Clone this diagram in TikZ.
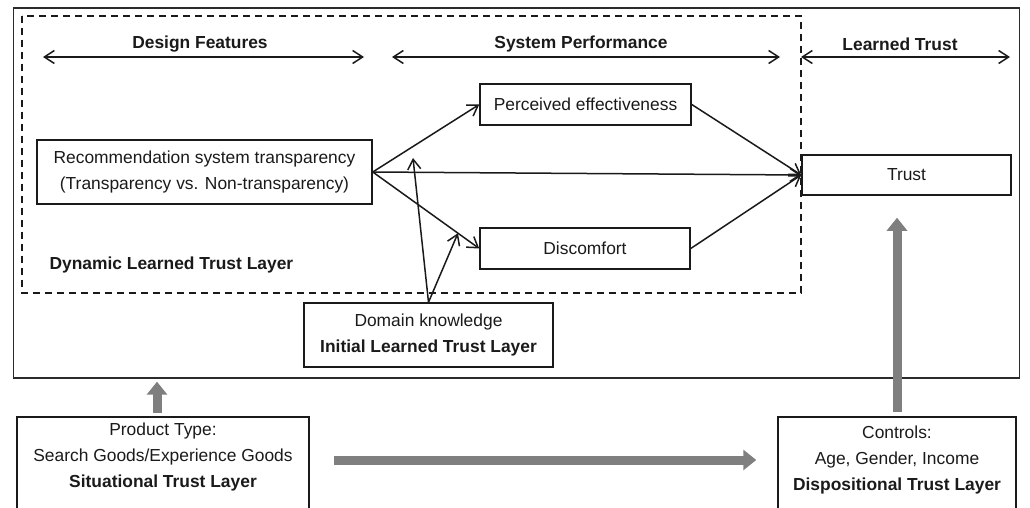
\documentclass[tikz,border=0pt]{standalone}
\usepackage{fontspec}
\setmainfont{Liberation Sans}
\usetikzlibrary{arrows.meta,calc}
\definecolor{ink}{HTML}{1A1A1A}
\definecolor{frame}{HTML}{2B2B2B}
\definecolor{slab}{HTML}{7F7F7F}

\begin{document}
\begin{tikzpicture}[x=1pt,y=-1pt,font=\fontsize{17.4}{26}\selectfont,
    box/.style={draw=ink,line width=1.5pt,inner sep=0pt,align=center,text=ink},
    head/.style={font=\fontsize{17.4}{26}\selectfont\bfseries,text=ink},
    link/.style={ink,line width=1.5pt,-{Straight Barb[length=10pt,width=13pt]}},
    span/.style={ink,line width=1.5pt,
      {Straight Barb[length=10pt,width=13pt]}-{Straight Barb[length=10pt,width=13pt]}},
    bigarrow/.style={slab,line width=9pt,-{Triangle[length=13pt,width=20pt]}}]
  \useasboundingbox (0,0) rectangle (1030,508);
  \clip (0,0) rectangle (1030,508);

  % outer frame and the dynamic layer
  \node[draw=frame,line width=1.7pt,inner sep=0pt,anchor=north west,
        minimum width=1006pt,minimum height=370pt] (outer) at (12.5,7) {};
  \draw[ink,line width=1.5pt,dash pattern=on 7pt off 5pt] (22,16) rectangle (801,293);

  % column headings
  \node[head] (hdes) at (200,44) {Design Features};
  \node[head] (hsys) at (581,44) {System Performance};
  \node[head] (hlrn) at (900,44) {Learned Trust};
  \draw[span] (43,57) -- (364,57);
  \draw[span] (392,57) -- (780,57);
  \draw[span] (801,57) -- (1010,57);

  % model boxes
  \node[box,minimum width=335pt,minimum height=64pt] (rec) at (204.5,172)
    {Recommendation system transparency\\(Transparency vs. Non-transparency)};
  \node[box,minimum width=211pt,minimum height=41pt] (pe) at (585.5,104.5) {Perceived effectiveness};
  \node[box,minimum width=210pt,minimum height=41pt] (disc) at (585,248.5) {Discomfort};
  \node[box,minimum width=209pt,minimum height=40pt] (trust) at (906.5,175) {Trust};
  \node[box,minimum width=249pt,minimum height=64pt] (dk) at (428.5,335)
    {Domain knowledge\\\textbf{Initial Learned Trust Layer}};
  \node[head,anchor=west] (dyn) at (46,265) {Dynamic Learned Trust Layer};

  % layers below the frame (run off the page)
  \node[box,anchor=north,minimum width=292pt,inner ysep=6pt,text depth=100pt] (prod) at (163,416)
    {Product Type:\\Search Goods/Experience Goods\\\textbf{Situational Trust Layer}};
  \node[box,anchor=north,minimum width=238pt,inner ysep=9pt,text depth=100pt] (ctrl) at (897,416)
    {Controls:\\Age, Gender, Income\\\textbf{Dispositional Trust Layer}};

  % paths
  \draw[link] (rec.east) -- (pe.west);
  \draw[link] (rec.east) -- (trust.west);
  \draw[link] (rec.east) -- (disc.west);
  \draw[link] (pe.east) -- (trust.west);
  \draw[link] (disc.east) -- (trust.west);

  % moderation by domain knowledge
  \coordinate (mpe) at (413,158);
  \coordinate (mdisc) at ($(rec.east)!0.8!(disc.west)$);
  \draw[link] (dk.north) -- (mpe);
  \draw[link] (dk.north) -- (mdisc);

  % grey layer arrows
  \coordinate (pup) at ([xshift=-6pt,yshift=3pt]prod.north);
  \draw[bigarrow,shorten >=3pt] (pup) -- (pup |- outer.south);
  \draw[bigarrow,shorten <=24pt,shorten >=21pt] (prod.north east |- 0,460) -- (ctrl.north west |- 0,460);
  \draw[bigarrow,shorten >=22pt] ([yshift=4pt]ctrl.north) -- (ctrl.north |- trust.south);
\end{tikzpicture}
\end{document}
